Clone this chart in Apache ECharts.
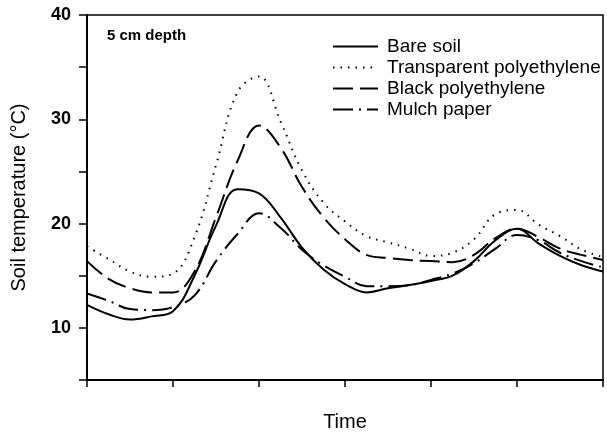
<!DOCTYPE html>
<html>
<head>
<meta charset="utf-8">
<script src="https://cdn.jsdelivr.net/npm/echarts@6/dist/echarts.min.js"></script>
<style>
  html, body { margin: 0; padding: 0; background: #fff; }
  #chart { width: 607px; height: 437px; }
</style>
</head>
<body>
<div id="chart"></div>
<script>
// time axis positions (unlabelled ticks 0..6)
const time = [0, 0.25, 0.5, 0.75, 1, 1.25, 1.5, 1.75, 2, 2.25, 2.5, 2.75, 3,
  3.25, 3.5, 3.75, 4, 4.25, 4.5, 4.75, 5, 5.25, 5.5, 5.75, 6];

const bareSoil = [12.2, 11.3, 10.8, 11.1, 11.6, 15.0, 19.8, 23.3, 22.9, 20.6, 17.7, 15.6, 14.2,
  13.4, 13.8, 14.1, 14.5, 15.0, 16.4, 18.4, 19.5, 18.1, 16.9, 16.0, 15.4];
const transparentPE = [17.8, 16.6, 15.4, 14.9, 15.2, 18.7, 25.6, 32.6, 34.1, 29.8, 25.1, 22.0, 20.2,
  18.8, 18.2, 17.6, 16.9, 17.2, 18.5, 20.9, 21.3, 19.9, 18.8, 17.5, 16.8];
const blackPE = [16.4, 14.7, 13.8, 13.4, 13.4, 15.4, 20.6, 26.0, 29.4, 27.3, 23.5, 20.6, 18.5,
  17.0, 16.7, 16.5, 16.4, 16.3, 17.0, 18.6, 19.5, 18.7, 17.6, 17.0, 16.5];
const mulchPaper = [13.3, 12.6, 11.8, 11.7, 12.0, 13.1, 16.4, 19.0, 21.0, 19.6, 17.5, 16.0, 14.9,
  14.0, 14.0, 14.1, 14.6, 15.2, 16.2, 17.6, 18.9, 18.4, 17.2, 16.4, 15.8];

const seriesNames = ['Bare soil', 'Transparent polyethylene', 'Black polyethylene', 'Mulch paper'];
const yTickLabels = [10, 20, 30, 40];

const pairs = (ys) => ys.map((v, i) => [time[i], v]);
const font = 'Liberation Sans, Arial, sans-serif';

const chart = echarts.init(document.getElementById('chart'));

const mkLine = (name, data, type) => ({
  name: name,
  type: 'line',
  data: pairs(data),
  smooth: 0.4,
  showSymbol: false,
  symbol: 'none',
  lineStyle: { color: '#000', width: 2, type: type },
  itemStyle: { color: '#000' }
});

chart.setOption({
  animation: false,
  backgroundColor: '#fff',
  grid: {
    left: 87, right: 4, top: 15, bottom: 54,
    show: true, borderColor: '#000', borderWidth: 1.5
  },
  legend: {
    orient: 'vertical',
    left: 327, top: 32,
    itemWidth: 45, itemHeight: 14, itemGap: 2,
    itemStyle: { opacity: 0 },
    textStyle: { fontFamily: font, fontSize: 19, lineHeight: 18, color: '#000', padding: [0, 0, 0, 4] },
    data: seriesNames
  },
  graphic: [{
    type: 'text',
    left: 107, top: 28,
    style: { text: '5 cm depth', fontFamily: font, fontSize: 15, fontWeight: 'bold', fill: '#000' }
  }],
  xAxis: {
    type: 'value',
    min: 0, max: 6, interval: 1,
    name: 'Time',
    nameLocation: 'middle',
    nameGap: 32,
    nameTextStyle: { fontFamily: font, fontSize: 20, color: '#000' },
    axisLine: { lineStyle: { color: '#000', width: 2 } },
    axisTick: { show: true, inside: false, length: 7, lineStyle: { color: '#000', width: 1.5 } },
    axisLabel: { show: false },
    splitLine: { show: false }
  },
  yAxis: {
    type: 'value',
    min: 5, max: 40, interval: 5,
    name: 'Soil temperature (\u00B0C)',
    nameLocation: 'middle',
    nameGap: 58,
    nameTextStyle: { fontFamily: font, fontSize: 20, color: '#000' },
    axisLine: { show: true, lineStyle: { color: '#000', width: 2 } },
    axisTick: { show: true, inside: false, length: 8, lineStyle: { color: '#000', width: 1.5 } },
    axisLabel: {
      fontFamily: font, fontSize: 18, fontWeight: 'bold', color: '#000', margin: 16,
      formatter: (v) => (yTickLabels.indexOf(v) >= 0 ? String(v) : '')
    },
    splitLine: { show: false }
  },
  series: [
    mkLine(seriesNames[0], bareSoil, 'solid'),
    mkLine(seriesNames[1], transparentPE, [1.5, 6]),
    mkLine(seriesNames[2], blackPE, [20, 7]),
    mkLine(seriesNames[3], mulchPaper, [20, 6, 2, 6])
  ]
});
</script>
</body>
</html>
